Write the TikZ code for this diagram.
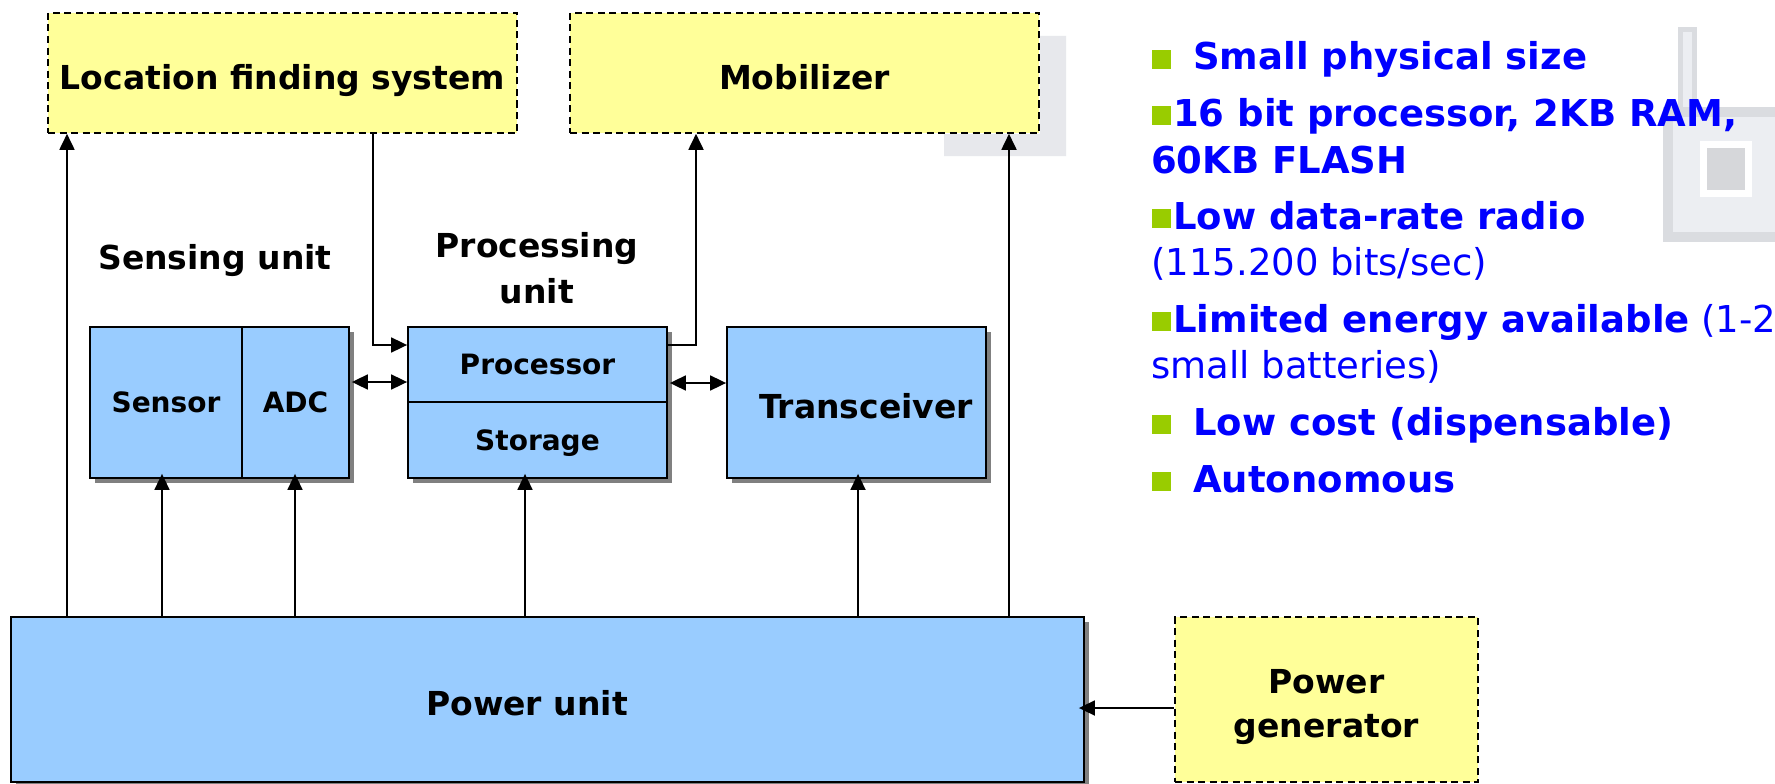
\documentclass[tikz,border=0pt]{standalone}
\usepackage{fontspec}
\setmainfont{DejaVu Sans}
\usetikzlibrary{arrows.meta,shadows}

\definecolor{unitblue}{HTML}{99CCFF}
\definecolor{extyellow}{HTML}{FFFF99}
\definecolor{shadowgray}{HTML}{808080}
\definecolor{notesblue}{HTML}{0000FF}
\definecolor{bulletgreen}{HTML}{99CC00}
\definecolor{faintrim}{HTML}{DADCE0}
\definecolor{faintbody}{HTML}{ECEEF2}
\definecolor{faintscreen}{HTML}{D6D7DA}
\definecolor{faintghost}{HTML}{E7E8EC}

\begin{document}
\begin{tikzpicture}[x=1pt,y=-1pt,
  unit/.style={rectangle, draw=black, line width=1.8pt, fill=unitblue, inner sep=0pt,
    drop shadow={shadow xshift=5pt, shadow yshift=-5pt, fill=shadowgray, opacity=1}},
  ext/.style={rectangle, draw=black, line width=1.6pt, dash pattern=on 7pt off 4.5pt,
    fill=extyellow, inner sep=0pt},
  wire/.style={line width=1.8pt, -{Triangle[length=16pt,width=15pt]}},
  twoway/.style={line width=1.8pt, {Triangle[length=16pt,width=15pt]}-{Triangle[length=16pt,width=15pt]}},
  biglabel/.style={font=\fontsize{33}{40}\selectfont\bfseries, anchor=base, inner sep=0pt},
  smalllabel/.style={font=\fontsize{28}{34}\selectfont\bfseries, anchor=base, inner sep=0pt},
  note/.style={font=\fontsize{37}{44}\selectfont, text=notesblue, anchor=base west, inner sep=0pt},
  bullet/.style={fill=bulletgreen}]

\useasboundingbox (0,0) rectangle (1775,784);
\fill[white] (0,0) rectangle (1775,784);

% faint artwork in the background: a mote behind the list, a ghost frame near the mobilizer
\fill[faintghost] (1040,36) -- (1066,36) -- (1066,156) -- (944,156) -- (944,134) -- (1040,134) -- cycle;
\fill[faintrim] (1678,27) rectangle (1697,107);
\fill[faintbody] (1683,32) rectangle (1692,107);
\fill[faintrim] (1663,107) rectangle (1775,242);
\fill[faintbody] (1673,117) rectangle (1775,232);
\fill[white] (1700,141) rectangle (1752,197);
\fill[faintscreen] (1707,148) rectangle (1745,190);

% external blocks
\node[ext, minimum width=469, minimum height=120] (loc) at (282.5,73) {};
\node[ext, minimum width=469, minimum height=120] (mob) at (804.5,73) {};
\node[ext, minimum width=303, minimum height=165] (gen) at (1326.5,699.5) {};

% sensor node units
\node[unit, minimum width=152, minimum height=151] (sensor) at (166,402.5) {};
\node[unit, minimum width=107, minimum height=151] (adc) at (295.5,402.5) {};
\node[unit, minimum width=259, minimum height=75] (proc) at (537.5,364.5) {};
\node[unit, minimum width=259, minimum height=76] (stor) at (537.5,440) {};
\node[unit, minimum width=259, minimum height=151] (trans) at (856.5,402.5) {};
\node[unit, minimum width=1073, minimum height=165] (power) at (547.5,699.5) {};

% labels
\node[biglabel] (loctext) at (282.5,89) {Location finding system};
\node[biglabel] (mobtext) at (804.5,89) {Mobilizer};
\node[biglabel] (senstitle) at (215,269) {Sensing unit};
\node[biglabel] (proctitle1) at (537,257) {Processing};
\node[biglabel] (proctitle2) at (537,303) {unit};
\node[smalllabel] (senstext) at (166,412) {Sensor};
\node[smalllabel] (adctext) at (295.5,412) {ADC};
\node[smalllabel] (proctext) at (537.5,374) {Processor};
\node[smalllabel] (stortext) at (537.5,450) {Storage};
\node[biglabel] (transtext) at (866,418) {Transceiver};
\node[biglabel] (powertext) at (527,715) {Power unit};
\node[biglabel] (gentext1) at (1326.5,693) {Power};
\node[biglabel] (gentext2) at (1326.5,737) {generator};

% power distribution
\draw[wire] (power.north -| 67,0) -- (loc.south -| 67,0);
\draw[wire, shorten >=-5pt] (power.north -| 162,0) -- (sensor.south -| 162,0);
\draw[wire, shorten >=-5pt] (power.north -| 295,0) -- (adc.south -| 295,0);
\draw[wire, shorten >=-5pt] (power.north -| 525,0) -- (stor.south -| 525,0);
\draw[wire, shorten >=-5pt] (power.north -| 858,0) -- (trans.south -| 858,0);
\draw[wire] (power.north -| 1009,0) -- (mob.south -| 1009,0);
\draw[wire, shorten >=-6pt] (gen.west |- 0,708) -- (power.east |- 0,708);

% data paths
\draw[wire] (loc.south -| 373,0) |- (proc.west |- 0,345);
\draw[wire] (proc.east |- 0,345) -| (mob.south -| 696,0);
\draw[twoway, shorten <=2pt] (adc.east |- 0,382) -- (proc.west |- 0,382);
\draw[twoway, shorten <=2pt] (proc.east |- 0,383) -- (trans.west |- 0,383);

% feature list
\fill[bullet] (1152,50) rectangle (1171,69);
\node[note] (f1) at (1193,70) {\bfseries Small physical size};
\fill[bullet] (1152,106) rectangle (1171,125);
\node[note] (f2) at (1173,126) {\bfseries 16 bit processor, 2KB RAM,};
\node[note] (f2b) at (1151,173) {\bfseries 60KB FLASH};
\fill[bullet] (1152,209) rectangle (1171,228);
\node[note] (f3) at (1173,229) {\bfseries Low data-rate radio};
\node[note] (f3b) at (1151,275) {(115.200 bits/sec)};
\fill[bullet] (1152,312) rectangle (1171,331);
\node[note] (f4) at (1173,332) {{\bfseries Limited energy available} (1-2};
\node[note] (f4b) at (1151,378) {small batteries)};
\fill[bullet] (1152,415) rectangle (1171,434);
\node[note] (f5) at (1193,435) {\bfseries Low cost (dispensable)};
\fill[bullet] (1152,472) rectangle (1171,491);
\node[note] (f6) at (1193,492) {\bfseries Autonomous};

\end{tikzpicture}
\end{document}
